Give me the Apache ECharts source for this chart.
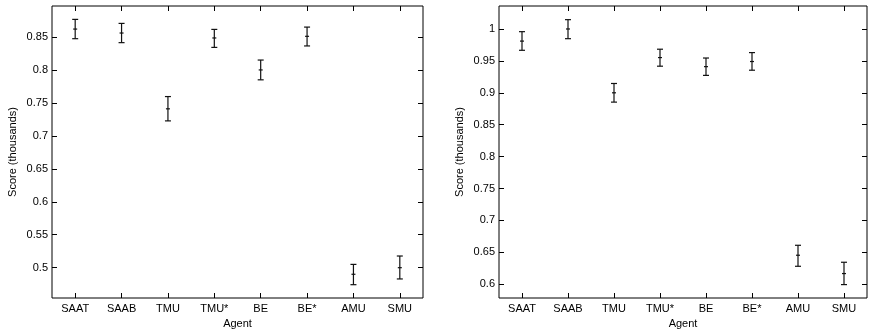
<!DOCTYPE html>
<html>
<head>
<meta charset="utf-8">
<script src="https://cdn.jsdelivr.net/npm/echarts@6/dist/echarts.min.js"></script>
<style>html,body{margin:0;padding:0;background:#fff}#c{width:869px;height:329px}</style>
</head>
<body>
<div id="c"></div>
<script>
const categories = ['SAAT','SAAB','TMU','TMU*','BE','BE*','AMU','SMU'];
// Left panel
const leftMean  = [0.862, 0.856, 0.741, 0.8485, 0.800, 0.851, 0.490, 0.500];
const leftLow   = [0.8474, 0.8414, 0.7227, 0.8342, 0.785, 0.8364, 0.4742, 0.4829];
const leftHigh  = [0.8767, 0.8706, 0.7596, 0.8615, 0.815, 0.865, 0.505, 0.5177];
const leftTicks = [0.5, 0.55, 0.6, 0.65, 0.7, 0.75, 0.8, 0.85];
// Right panel
const rightMean  = [0.981, 1.000, 0.900, 0.9552, 0.941, 0.949, 0.6455, 0.6168];
const rightLow   = [0.9666, 0.9848, 0.8854, 0.9417, 0.9273, 0.9354, 0.6282, 0.5995];
const rightHigh  = [0.9958, 1.0146, 0.9146, 0.9683, 0.9545, 0.963, 0.6611, 0.6345];
const rightTicks = [0.6, 0.65, 0.7, 0.75, 0.8, 0.85, 0.9, 0.95, 1];

const FONT = 'Liberation Sans, Arial, Helvetica, sans-serif';
const chart = echarts.init(document.getElementById('c'));

function errData(mean, low, high) {
  return mean.map((m, i) => [i, m, low[i], high[i]]);
}
function renderErr(params, api) {
  const x = api.value(0);
  const m = api.coord([x, api.value(1)]);
  const lo = api.coord([x, api.value(2)]);
  const hi = api.coord([x, api.value(3)]);
  const cw = 3, pw = 2;
  const st = { stroke: '#111', lineWidth: 1.2 };
  return {
    type: 'group',
    children: [
      { type: 'line', shape: { x1: lo[0], y1: lo[1], x2: hi[0], y2: hi[1] }, style: st },
      { type: 'line', shape: { x1: lo[0]-cw, y1: lo[1], x2: lo[0]+cw, y2: lo[1] }, style: st },
      { type: 'line', shape: { x1: hi[0]-cw, y1: hi[1], x2: hi[0]+cw, y2: hi[1] }, style: st },
      { type: 'line', shape: { x1: m[0]-pw, y1: m[1], x2: m[0]+pw, y2: m[1] }, style: st }
    ]
  };
}

function xAxes(gi) {
  return [
    { type: 'category', gridIndex: gi, data: categories, position: 'bottom',
      boundaryGap: true,
      axisLine: { show: false },
      axisTick: { show: true, inside: true, length: 5, alignWithLabel: true, lineStyle: { color: '#000' } },
      axisLabel: { show: true, color: '#000', fontFamily: FONT, fontSize: 11, margin: 5, interval: 0 },
      splitLine: { show: false },
      name: 'Agent', nameLocation: 'middle', nameGap: 17,
      nameTextStyle: { color: '#000', fontFamily: FONT, fontSize: 11 } },
    { type: 'category', gridIndex: gi, data: categories, position: 'top',
      boundaryGap: true,
      axisLine: { show: false },
      axisTick: { show: true, inside: true, length: 5, alignWithLabel: true, lineStyle: { color: '#000' } },
      axisLabel: { show: false }, splitLine: { show: false } }
  ];
}
function yAxes(gi, min, max, ticks) {
  return [
    { type: 'value', gridIndex: gi, min: min, max: max, position: 'left',
      axisLine: { show: false },
      axisTick: { show: true, inside: true, length: 5, customValues: ticks, lineStyle: { color: '#000' } },
      axisLabel: { show: true, customValues: ticks, color: '#000', fontFamily: FONT, fontSize: 11, margin: 4 },
      splitLine: { show: false },
      name: 'Score (thousands)', nameLocation: 'middle', nameGap: 34,
      nameTextStyle: { color: '#000', fontFamily: FONT, fontSize: 11 } },
    { type: 'value', gridIndex: gi, min: min, max: max, position: 'right',
      axisLine: { show: false },
      axisTick: { show: true, inside: true, length: 5, customValues: ticks, lineStyle: { color: '#000' } },
      axisLabel: { show: false }, splitLine: { show: false } }
  ];
}

chart.setOption({
  animation: false,
  backgroundColor: '#fff',
  grid: [
    { left: 52, top: 6, width: 371, height: 292, outerBoundsMode: 'none', containLabel: false,
      show: true, borderColor: '#000', borderWidth: 1, backgroundColor: 'transparent' },
    { left: 499, top: 6, width: 368, height: 292, outerBoundsMode: 'none', containLabel: false,
      show: true, borderColor: '#000', borderWidth: 1, backgroundColor: 'transparent' }
  ],
  xAxis: [...xAxes(0), ...xAxes(1)],
  yAxis: [...yAxes(0, 0.454, 0.897, leftTicks), ...yAxes(1, 0.5785, 1.036, rightTicks)],
  series: [
    { type: 'custom', xAxisIndex: 0, yAxisIndex: 0, renderItem: renderErr,
      data: errData(leftMean, leftLow, leftHigh), encode: { x: 0, y: [1, 2, 3] } },
    { type: 'custom', xAxisIndex: 2, yAxisIndex: 2, renderItem: renderErr,
      data: errData(rightMean, rightLow, rightHigh), encode: { x: 0, y: [1, 2, 3] } }
  ]
});
</script>
</body>
</html>
